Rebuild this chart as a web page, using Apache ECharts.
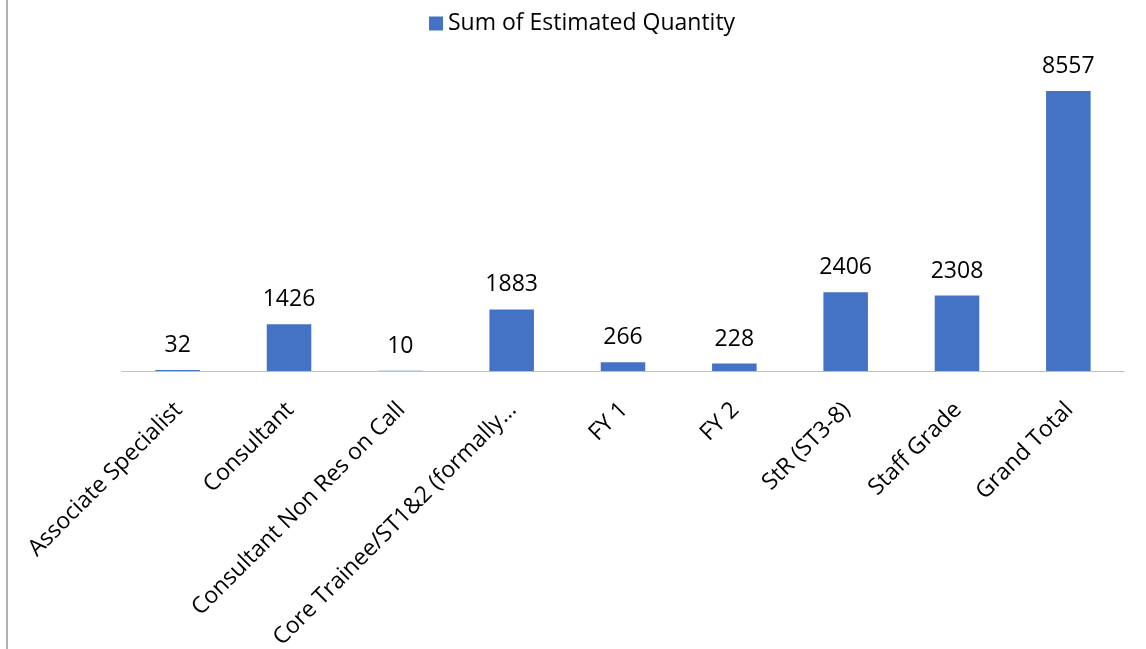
<!DOCTYPE html>
<html><head><meta charset="utf-8">
<script src="https://cdn.jsdelivr.net/npm/echarts@6/dist/echarts.min.js"></script>
<style>html,body{margin:0;padding:0;background:#fff}#c{width:1146px;height:649px}</style>
</head><body><div id="c"></div>
<script>
const categories = ["Associate Specialist","Consultant","Consultant Non Res on Call","Core Trainee/ST1&2 (formally\u2026","FY 1","FY 2","StR (ST3-8)","Staff Grade","Grand Total"];
const seriesName = "Sum of Estimated Quantity";
const values = [32,1426,10,1883,266,228,2406,2308,8557];

const chart = echarts.init(document.getElementById('c'), null, {renderer:'canvas'});
const font = '"Open Sans", sans-serif';
chart.setOption({
  animation:false,
  backgroundColor:'#ffffff',
  textStyle:{fontFamily:font},
  legend:{
    top:7, left:424, itemWidth:14, itemHeight:14, itemGap:6,
    icon:'rect',
    textStyle:{fontSize:23, color:'#000', fontFamily:font},
    data:[seriesName]
  },
  grid:{left:122, right:22, top:76.5, bottom:278, containLabel:false, outerBoundsMode:'none'},
  xAxis:{
    type:'category', data:categories,
    axisLine:{lineStyle:{color:'#BFBFBF', width:1}},
    axisTick:{show:false},
    axisLabel:{rotate:45, interval:0, fontSize:23, color:'#000', margin:20, align:'right', verticalAlign:'top', padding:[0,10,0,0], fontFamily:font}
  },
  yAxis:{type:'value', min:0, max:9000, show:false, splitLine:{show:false}},
  series:[{
    name:seriesName, type:'bar', data:values, barWidth:'40%',
    itemStyle:{color:'#4472C4'},
    label:{show:true, position:'top', distance:13, fontSize:23, color:'#000', fontFamily:font}
  }],
  graphic:[{type:'rect', shape:{x:6, y:0, width:2, height:649}, style:{fill:'#B0B0B0'}, silent:true}]
});
</script></body></html>
